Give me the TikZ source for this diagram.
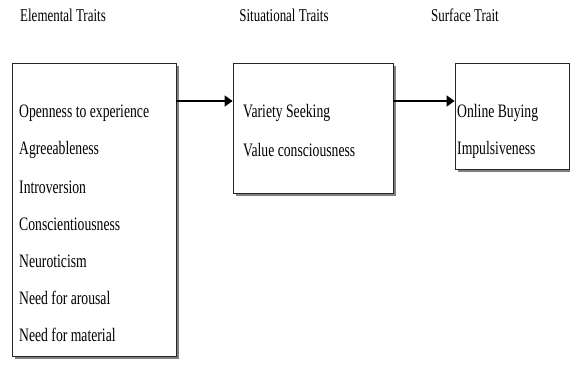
\documentclass[tikz,border=0pt]{standalone}
\usepackage{fontspec}
\setmainfont{Liberation Serif}[FakeStretch=0.72]
\usetikzlibrary{arrows.meta,positioning,shadows}

\begin{document}
\begin{tikzpicture}[x=1pt,y=1pt,node distance=37pt,
  box/.style={draw=black!85,line width=0.8pt,fill=white,
    drop shadow={shadow xshift=3pt,shadow yshift=-3pt,fill=black!50,opacity=1}},
  trait/.style={inner sep=0pt,font=\fontsize{19}{22}\selectfont},
  head/.style={inner sep=0pt,font=\fontsize{18}{21}\selectfont},
  link/.style={line width=1.4pt,-{Triangle[length=8pt,width=11pt]}}]
  \useasboundingbox (0,0) rectangle (570,367);
  % headings
  \node[head] (h_el)  at (63,352)  {Elemental Traits};
  \node[head] (h_sit) at (284,352) {Situational Traits};
  \node[head] (h_sur) at (465,352) {Surface Trait};
  % boxes
  \node[box,minimum width=164pt,minimum height=293pt] (elem) at (94,157.5) {};
  \node[box,minimum width=160pt,minimum height=130pt] (situ) at (313,239) {};
  \node[box,minimum width=114pt,minimum height=106pt] (surf) at (512,251) {};
  % elemental traits
  \node[trait,anchor=west] (e_1) at (19,254) {Openness to experience};
  \node[trait,below=37pt of e_1.west,anchor=west] (e_2) {Agreeableness};
  \node[trait,below=37pt of e_2.west,anchor=west] (e_3) {Introversion};
  \node[trait,below=37pt of e_3.west,anchor=west] (e_4) {Conscientiousness};
  \node[trait,below=37pt of e_4.west,anchor=west] (e_5) {Neuroticism};
  \node[trait,below=37pt of e_5.west,anchor=west] (e_6) {Need for arousal};
  \node[trait,below=37pt of e_6.west,anchor=west] (e_7) {Need for material};
  % situational traits
  \node[trait,anchor=west] (s_1) at (243,254) {Variety Seeking};
  \node[trait,below=37pt of s_1.west,anchor=west] (s_2) {Value consciousness};
  % surface trait
  \node[trait,anchor=west] (f_1) at (457,254) {Online Buying};
  \node[trait,below=37pt of f_1.west,anchor=west] (f_2) {Impulsiveness};
  % links
  \coordinate (lvl) at (0,266);
  \draw[link] (elem.east |- lvl) -- (situ.west |- lvl);
  \draw[link] (situ.east |- lvl) -- (surf.west |- lvl);
\end{tikzpicture}
\end{document}
